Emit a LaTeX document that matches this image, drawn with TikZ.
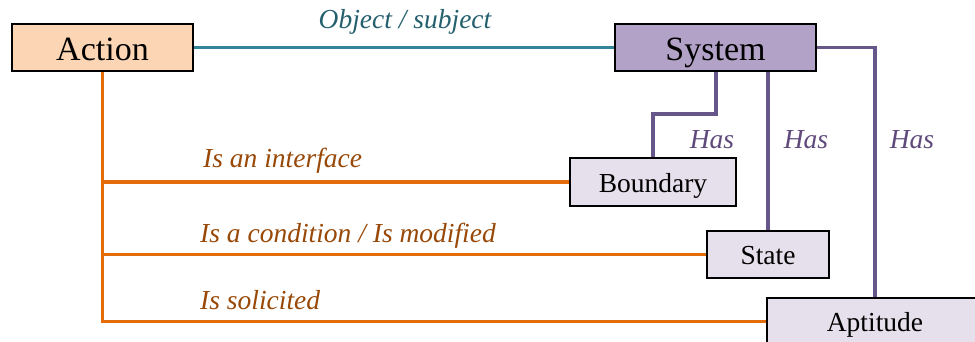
\documentclass[tikz,border=0pt]{standalone}
\usepackage{fontspec}
\setmainfont{Liberation Serif}
\definecolor{actfill}{HTML}{FCD5B5}
\definecolor{sysfill}{HTML}{B3A2C7}
\definecolor{subfill}{HTML}{E6E0EC}
\definecolor{tealline}{HTML}{31849B}
\definecolor{tealtext}{HTML}{245F6E}
\definecolor{orline}{HTML}{E46C0A}
\definecolor{ortext}{HTML}{984807}
\definecolor{puline}{HTML}{67568A}
\definecolor{putext}{HTML}{604A7B}
\tikzset{
  box/.style={draw=black, line width=1.5pt, inner sep=0pt, outer sep=0pt,
    text depth=0pt, align=center},
  bigbox/.style={box, font=\fontsize{34}{40}\selectfont, text height=25pt, minimum height=47pt},
  smallbox/.style={box, font=\fontsize{27.5}{32}\selectfont, text height=20.5pt, minimum height=47pt},
  lab/.style={inner sep=0pt, font=\fontsize{27.5}{32}\selectfont\itshape},
  tealc/.style={draw=tealline, line width=3.2pt},
  orc/.style={draw=orline, line width=3.2pt},
  puc/.style={draw=puline, line width=3.2pt},
}
\begin{document}
\begin{tikzpicture}[x=1pt,y=-1pt]
\useasboundingbox (0,0) rectangle (975,341);
\clip (0,0) rectangle (975,341);
% nodes
\node[bigbox, fill=actfill, minimum width=181pt] (act) at (102.5,47.5) {Action};
\node[bigbox, fill=sysfill, minimum width=201pt] (sys) at (715.5,47.5) {System};
\node[smallbox, fill=subfill, minimum width=166pt, minimum height=48pt] (bnd) at (653,182) {Boundary};
\node[smallbox, fill=subfill, minimum width=122pt] (st) at (768,254.5) {State};
\node[smallbox, fill=subfill, minimum width=216pt] (apt) at (875,321.5) {Aptitude};
\coordinate (k1) at (716,114);
% connectors
\draw[tealc] (act.east) -- (sys.west);
\draw[orc] (act.south) -- (act.south |- apt.west) -- (apt.west);
\draw[orc] (act.south |- bnd.west) -- (bnd.west);
\draw[orc] (act.south |- st.west) -- (st.west);
\draw[puc] (sys.south -| k1) -- (k1) -| (bnd.north);
\draw[puc] (st.north |- sys.south) -- (st.north);
\draw[puc] (sys.east) -| (apt.north);
% redraw boxes on top
\node[bigbox, fill=actfill, minimum width=181pt] at (102.5,47.5) {Action};
\node[bigbox, fill=sysfill, minimum width=201pt] at (715.5,47.5) {System};
\node[smallbox, fill=subfill, minimum width=166pt, minimum height=48pt] at (653,182) {Boundary};
\node[smallbox, fill=subfill, minimum width=122pt] at (768,254.5) {State};
\node[smallbox, fill=subfill, minimum width=216pt] at (875,321.5) {Aptitude};
% labels
\node[lab, text=tealtext, anchor=base] (l0) at (405,28) {Object / subject};
\node[lab, text=putext, anchor=base] (h1) at (712,148) {Has};
\node[lab, text=putext, anchor=base] (h2) at (806,148) {Has};
\node[lab, text=putext, anchor=base] (h3) at (912,148) {Has};
\node[lab, text=ortext, anchor=base west] (l1) at (203,167) {Is an interface};
\node[lab, text=ortext, anchor=base west] (l2) at (200,242) {Is a condition / Is modified};
\node[lab, text=ortext, anchor=base west] (l3) at (200,309) {Is solicited};
\end{tikzpicture}
\end{document}
